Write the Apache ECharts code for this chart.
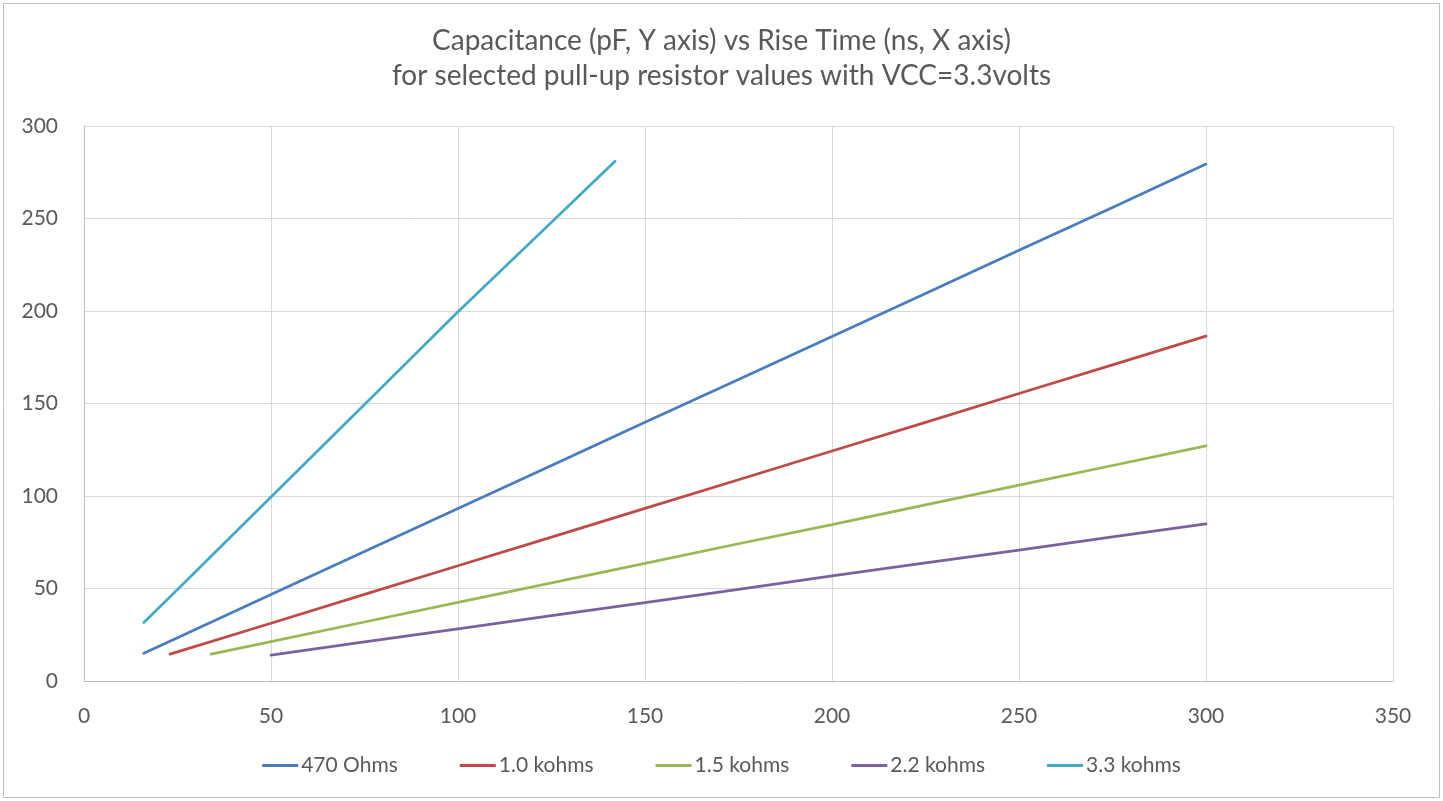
<!DOCTYPE html>
<html>
<head>
<meta charset="utf-8">
<title>Capacitance vs Rise Time</title>
<script src="https://cdn.jsdelivr.net/npm/echarts@6/dist/echarts.min.js"></script>
<style>
  html, body { margin: 0; padding: 0; background: #ffffff; }
  #chart { width: 1443px; height: 801px; }
</style>
</head>
<body>
<div id="chart"></div>
<script>
// Rise time (ns) / capacitance (pF) pairs for each pull-up resistor
const r470 = [[16, 15], [25, 23.4], [50, 46.7], [75, 70], [100, 93.3], [125, 116.5], [150, 139.8],
              [175, 163], [200, 186.2], [225, 209.5], [250, 232.9], [275, 256], [300, 279.4]];
const r1k0 = [[23, 14.5], [50, 31.2], [75, 46.8], [100, 62.3], [125, 77.8], [150, 93.3], [175, 108.8],
              [200, 124.3], [225, 139.8], [250, 155.4], [275, 170.9], [300, 186.4]];
const r1k5 = [[34, 14.5], [50, 21.3], [75, 31.9], [100, 42.5], [125, 53], [150, 63.6], [175, 74.2],
              [200, 84.5], [225, 95.2], [250, 105.9], [275, 116.5], [300, 127.1]];
const r2k2 = [[50, 14], [75, 21.1], [100, 28.2], [125, 35.3], [150, 42.4], [175, 49.5], [200, 56.8],
              [225, 63.8], [250, 70.8], [275, 77.9], [300, 84.9]];
const r3k3 = [[16, 31.6], [25, 49.5], [50, 99.5], [75, 149.5], [100, 199.6], [125, 248], [142, 281]];

const seriesNames = ['470 Ohms', '1.0 kohms', '1.5 kohms', '2.2 kohms', '3.3 kohms'];
const seriesData = [r470, r1k0, r1k5, r2k2, r3k3];
const seriesColors = ['#4A7EBB', '#BE4B48', '#98B954', '#7D60A0', '#46AAC5'];

const titleLines = [
  'Capacitance (pF, Y axis) vs Rise Time (ns, X axis)',
  'for selected pull-up resistor values with VCC=3.3volts'
];

const FONT = 'Lato, "Open Sans", sans-serif';
const TEXT = '#595959';

const chart = echarts.init(document.getElementById('chart'), null, { renderer: 'canvas' });

chart.setOption({
  backgroundColor: '#ffffff',
  animation: false,
  textStyle: { fontFamily: FONT },
  graphic: [{
    type: 'rect',
    shape: { x: 3.5, y: 3.5, width: 1436, height: 794 },
    style: { fill: 'none', stroke: '#BFBFBF', lineWidth: 1 },
    silent: true
  }],
  title: {
    text: titleLines.join('\n'),
    left: 'center',
    top: 18,
    textStyle: {
      fontFamily: FONT,
      fontSize: 28,
      fontWeight: 'normal',
      color: TEXT,
      lineHeight: 35
    }
  },
  legend: {
    data: seriesNames,
    bottom: 20,
    left: 'center',
    icon: 'rect',
    itemWidth: 36,
    itemHeight: 3,
    itemGap: 62,
    textStyle: { fontFamily: FONT, fontSize: 21, color: TEXT, padding: [0, 0, 0, -2] }
  },
  grid: {
    left: 84,
    right: 50,
    top: 126,
    bottom: 120,
    containLabel: false
  },
  xAxis: {
    type: 'value',
    min: 0,
    max: 350,
    interval: 50,
    axisLine: { show: true, lineStyle: { color: '#BFBFBF', width: 1 } },
    axisTick: { show: false },
    axisLabel: { fontFamily: FONT, fontSize: 21, color: TEXT, margin: 25 },
    splitLine: { show: true, lineStyle: { color: '#D9D9D9', width: 1 } }
  },
  yAxis: {
    type: 'value',
    min: 0,
    max: 300,
    interval: 50,
    axisLine: { show: true, lineStyle: { color: '#BFBFBF', width: 1 } },
    axisTick: { show: false },
    axisLabel: { fontFamily: FONT, fontSize: 21, color: TEXT, margin: 26 },
    splitLine: { show: true, lineStyle: { color: '#D9D9D9', width: 1 } }
  },
  series: seriesNames.map((name, i) => ({
    name: name,
    type: 'line',
    data: seriesData[i],
    showSymbol: false,
    symbol: 'none',
    color: seriesColors[i],
    lineStyle: { color: seriesColors[i], width: 2.75, cap: 'round' },
    z: i === 4 ? 3 : 2
  }))
});
</script>
</body>
</html>
